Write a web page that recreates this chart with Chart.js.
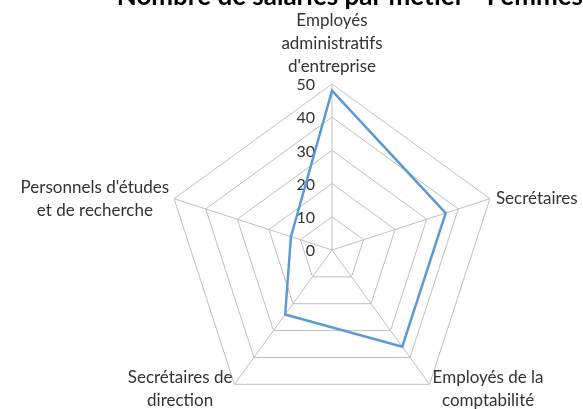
<!DOCTYPE html>
<html>
<head>
<meta charset="utf-8">
<script src="https://cdn.jsdelivr.net/npm/chart.js@4.4.0/dist/chart.umd.min.js"></script>
<style>
  html, body { margin: 0; padding: 0; background: #fff; overflow: hidden; width: 583px; height: 409px; }
  #wrap { position: absolute; left: 0; top: -19px; width: 583px; height: 436px; }
</style>
</head>
<body>
<div id="wrap"><canvas id="radarFemmes"></canvas></div>
<script>
'use strict';

// data
const categories = [
  ['Employés', 'administratifs', "d'entreprise"],
  ['Secrétaires'],
  ['Employés de la', 'comptabilité'],
  ['Secrétaires de', 'direction'],
  ["Personnels d'études", 'et de recherche']
];
const femmes = [48, 36, 36, 24, 13];
const tickValues = [0, 10, 20, 30, 40, 50];

const textColor = '#333333';
const gridColor = '#bfbfbf';
const lineH = 23;

// Excel-like category labels, placed from the scale's own vertex positions
const excelLabels = {
  id: 'excelLabels',
  afterDraw(chart) {
    const scale = chart.scales.r;
    const ctx = chart.ctx;
    ctx.save();
    ctx.font = '17px Lato';
    ctx.fillStyle = textColor;
    ctx.textBaseline = 'middle';
    ctx.textAlign = 'center';
    categories.forEach(function(lines, i) {
      const p = scale.getPointPosition(i, scale.drawingArea);
      const angle = scale.getIndexAngle(i);
      const sin = Math.sin(angle), cos = Math.cos(angle);
      const w = Math.max.apply(null, lines.map(l => ctx.measureText(l).width));
      const h = lines.length * lineH;
      let cx, top;
      if (Math.abs(sin) < 0.01) {
        cx = p.x;
        top = cos > 0 ? p.y - 6 - h : p.y + 6;
      } else if (cos > 0) {
        cx = sin > 0 ? p.x + 6 + w / 2 : p.x - 5 - w / 2;
        top = p.y - h / 2;
      } else {
        cx = sin > 0 ? p.x + 3 + w / 2 : p.x - 2 - w / 2;
        top = p.y - h / 2 + 5;
      }
      lines.forEach(function(l, j) {
        ctx.fillText(l, cx, top + lineH * (j + 0.5));
      });
    });
    ctx.restore();
  },
  beforeDatasetsDraw(chart) {
    const scale = chart.scales.r;
    const ctx = chart.ctx;
    ctx.save();
    ctx.font = '16px Lato';
    ctx.fillStyle = textColor;
    ctx.textBaseline = 'middle';
    ctx.textAlign = 'right';
    scale.ticks.forEach(function(t) {
      const p = scale.getPointPositionForValue(0, t.value);
      ctx.fillText(t.label, scale.xCenter - 17, p.y + 1);
    });
    ctx.restore();
  }
};

const config = {
  type: 'radar',
  data: {
    labels: categories,
    datasets: [
      {
        label: 'Femmes',
        data: femmes,
        borderColor: '#5b9bd5',
        backgroundColor: 'rgba(0,0,0,0)',
        borderWidth: 2.5,
        fill: false,
        pointRadius: 0,
        pointHoverRadius: 0,
        tension: 0
      }
    ]
  },
  options: {
    responsive: true,
    maintainAspectRatio: false,
    animation: false,
    layout: {
      padding: { left: 81, right: 0, top: 0, bottom: 0 }
    },
    scales: {
      r: {
        min: tickValues[0],
        max: tickValues[tickValues.length - 1],
        beginAtZero: true,
        ticks: {
          stepSize: tickValues[1] - tickValues[0],
          display: false
        },
        grid: { color: gridColor, lineWidth: 1 },
        angleLines: { color: gridColor, lineWidth: 1 },
        pointLabels: { display: false }
      }
    },
    plugins: {
      legend: { display: false },
      tooltip: { enabled: false },
      title: {
        display: true,
        text: 'Nombre de salariés par métier - Femmes',
        align: 'end',
        color: '#000',
        font: { family: 'Lato', size: 26, weight: 'bold' },
        padding: { top: 0, bottom: 71 }
      }
    }
  },
  plugins: [excelLabels]
};

const chartFemmes = new Chart(document.getElementById('radarFemmes'), config);
</script>
</body>
</html>
